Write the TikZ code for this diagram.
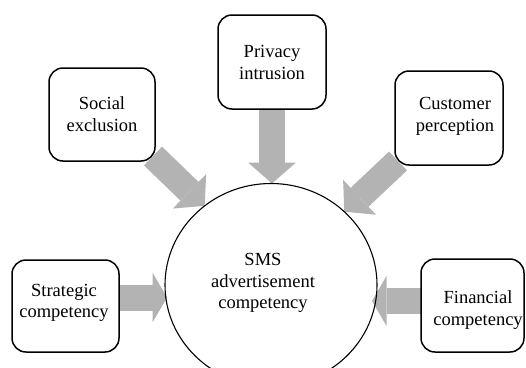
\documentclass[tikz,border=0pt]{standalone}
\usepackage{fontspec}
\setmainfont{Liberation Serif}
\usetikzlibrary{arrows.meta,shapes.geometric,backgrounds,calc}
\definecolor{arrowgray}{HTML}{B3B3B3}
\begin{document}
\begin{tikzpicture}[x=1pt,y=-1pt,
  factorbox/.style={draw, line width=1.5pt, rounded corners=14pt, inner sep=0pt, outer sep=0pt},
  boxlabel/.style={align=center, inner sep=0pt, font=\fontsize{18.5}{21.5}\selectfont},
  hubshape/.style={ellipse, draw, line width=1.1pt, inner sep=0pt, outer sep=0pt,
    minimum width=212pt, minimum height=203pt},
  fatshaft/.style={draw=arrowgray, line width=26pt},
  arrowdiag/.style={fatshaft, -{Triangle[width=48pt,length=21pt,line width=0pt]}},
  arrowside/.style={fatshaft, -{Triangle[width=50pt,length=14.5pt,line width=0pt]}},
]
\useasboundingbox (0,0) rectangle (526,367);

% factor boxes
\node[factorbox, minimum width=106pt, minimum height=93pt] (soc)   at (102,114.5) {};
\node[factorbox, minimum width=108pt, minimum height=94pt] (priv)  at (272,62)    {};
\node[factorbox, minimum width=108pt, minimum height=94pt] (cust)  at (449,118)   {};
\node[factorbox, minimum width=107pt, minimum height=92pt] (strat) at (65.5,306)  {};
\node[factorbox, minimum width=103pt, minimum height=93pt] (fin)   at (472.5,305.5) {};

\node[boxlabel] (socT)   at (102,114.2) {Social\\exclusion};
\node[boxlabel] (privT)  at (272,62.5)  {Privacy\\intrusion};
\node[boxlabel] (custT)  at (455,116.2) {Customer\\perception};
\node[boxlabel] (stratT) at (64,302.8)  {Strategic\\competency};
\node[boxlabel] (finT)   at (478,310.3) {Financial\\competency};

% central construct
\node[hubshape] (hub) at (271,285) {};
\node[boxlabel] (hubT) at (263,283) {SMS\\advertisement\\competency};

% end points of the horizontal arrows
\coordinate (sA) at ($(strat.east)+(0,-8.5)$);
\coordinate (sB) at ($(sA -| hub.west)+(2,0)$);
\coordinate (fA) at ($(fin.west)+(0,-4.5)$);
\coordinate (fB) at ($(fA -| hub.east)+(-5,0)$);

\begin{scope}[on background layer]
  \draw[arrowdiag] (priv.south) -- (priv.south |- hub.north);
  \draw[arrowdiag] ($(soc.south east)+(-2,-5)$) -- (hub.130);
  \draw[arrowdiag] ($(cust.south west)+(3,-4)$) -- (hub.45);
  \draw[arrowside] (sA) -- (sB);
  \draw[arrowside] (fA) -- (fB);
\end{scope}
\end{tikzpicture}
\end{document}
